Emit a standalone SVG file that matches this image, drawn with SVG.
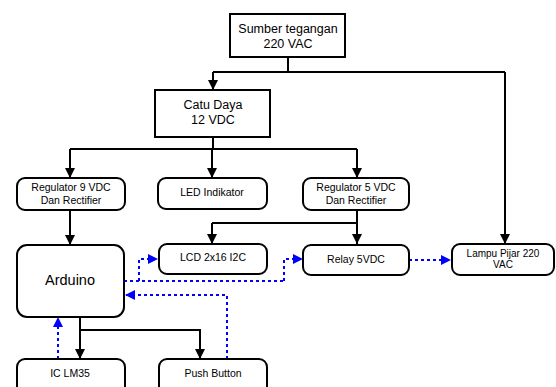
<svg xmlns="http://www.w3.org/2000/svg" width="556" height="387" viewBox="0 0 556 387">
<defs>
<style>
.box{fill:#fff;stroke:#000;stroke-width:2}
.t{font-family:"Liberation Sans",Arial,sans-serif;font-size:10.5px;fill:#000;text-anchor:middle}
.tb{font-family:"Liberation Sans",Arial,sans-serif;font-size:12.5px;fill:#000;text-anchor:middle}
.ln{fill:none;stroke:#000;stroke-width:2}
.dl{fill:none;stroke:#0000ff;stroke-width:2;stroke-dasharray:3,3}
</style>
<marker id="ab" viewBox="0 0 10 10" refX="10" refY="5" markerWidth="10" markerHeight="10" markerUnits="userSpaceOnUse" orient="auto"><path d="M0,0 L10,5 L0,10 z" fill="#000"/></marker>
<marker id="au" viewBox="0 0 10 10" refX="10" refY="5" markerWidth="10" markerHeight="10" markerUnits="userSpaceOnUse" orient="auto"><path d="M0,0 L10,5 L0,10 z" fill="#0000ff"/></marker>
</defs>
<rect width="556" height="387" fill="#fff"/>
<g id="connectors">
<path class="ln" d="M288,57 V72"/>
<path class="ln" d="M213,72 H505"/>
<path class="ln" d="M213,72 V90" marker-end="url(#ab)"/>
<path class="ln" d="M505,72 V244" marker-end="url(#ab)"/>
<path class="ln" d="M213,137 V149"/>
<path class="ln" d="M70,149 H357"/>
<path class="ln" d="M70,149 V178" marker-end="url(#ab)"/>
<path class="ln" d="M212,149 V178" marker-end="url(#ab)"/>
<path class="ln" d="M357,149 V178" marker-end="url(#ab)"/>
<path class="ln" d="M70,210 V245" marker-end="url(#ab)"/>
<path class="ln" d="M357,210 V244" marker-end="url(#ab)"/>
<path class="ln" d="M212,223 H357"/>
<path class="ln" d="M212,223 V244" marker-end="url(#ab)"/>
<path class="ln" d="M80,317 V359" marker-end="url(#ab)"/>
<path class="ln" d="M80,330 H200 V359" marker-end="url(#ab)"/>
<path class="dl" d="M124,281 H284"/>
<path class="dl" d="M139,281 V259 H158" marker-end="url(#au)"/>
<path class="dl" d="M284,281 V259 H303" marker-end="url(#au)"/>
<path class="dl" d="M409,260 H451" marker-end="url(#au)"/>
<path class="dl" d="M227,359 V295 H125" marker-end="url(#au)"/>
<path class="dl" d="M58,359 V317" marker-end="url(#au)"/>
</g>
<g id="sumber"><rect class="box" x="230" y="14" width="115" height="43"/><text class="tb" x="288" y="33">Sumber tegangan</text><text class="tb" x="288" y="48">220 VAC</text></g>
<g id="catu"><rect class="box" x="155" y="90" width="115" height="47"/><text class="tb" x="213" y="109">Catu Daya</text><text class="tb" x="213" y="124">12 VDC</text></g>
<g id="reg9"><rect class="box" x="17" y="178" width="108" height="32" rx="8"/><text class="t" x="71" y="191">Regulator 9 VDC</text><text class="t" x="71" y="204">Dan Rectifier</text></g>
<g id="led"><rect class="box" x="158" y="178" width="109" height="31" rx="8"/><text class="t" x="212" y="196">LED Indikator</text></g>
<g id="reg5"><rect class="box" x="303" y="178" width="106" height="32" rx="8"/><text class="t" x="356" y="191">Regulator 5 VDC</text><text class="t" x="356" y="204">Dan Rectifier</text></g>
<g id="arduino"><rect class="box" x="17" y="245" width="107" height="72" rx="10"/><text class="t" x="70" y="285" style="font-size:14.5px">Arduino</text></g>
<g id="lcd"><rect class="box" x="159" y="244" width="108" height="30" rx="8"/><text class="t" x="213" y="261">LCD 2x16 I2C</text></g>
<g id="relay"><rect class="box" x="303" y="245" width="106" height="30" rx="8"/><text class="t" x="356" y="263">Relay 5VDC</text></g>
<g id="lampu"><rect class="box" x="452" y="244" width="102" height="31" rx="8"/><text class="t" x="503" y="257" style="font-size:10px">Lampu Pijar 220</text><text class="t" x="503" y="268" style="font-size:10px">VAC</text></g>
<g id="lm35"><rect class="box" x="17" y="359" width="108" height="40" rx="8"/><text class="t" x="70" y="377">IC LM35</text></g>
<g id="push"><rect class="box" x="159" y="359" width="108" height="40" rx="8"/><text class="t" x="213" y="377">Push Button</text></g>
</svg>
